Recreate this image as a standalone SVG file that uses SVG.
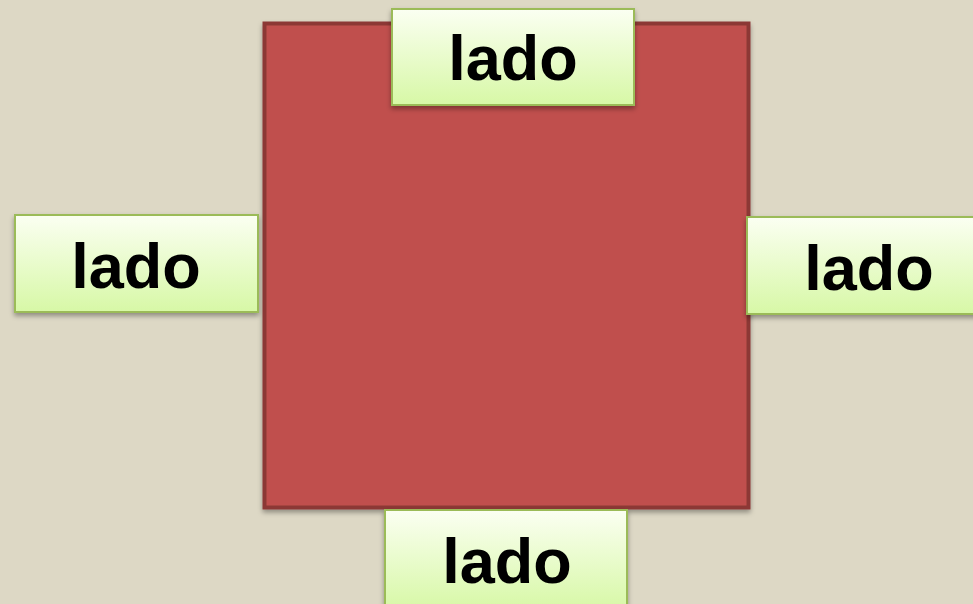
<svg xmlns="http://www.w3.org/2000/svg" width="973" height="604" viewBox="0 0 973 604">
<defs>
<linearGradient id="g" x1="0" y1="0" x2="0" y2="1">
<stop offset="0" stop-color="#fbfff2"/>
<stop offset="1" stop-color="#d7f8a6"/>
</linearGradient>
<filter id="sh" x="-10%" y="-10%" width="120%" height="130%">
<feDropShadow dx="0" dy="3" stdDeviation="2.5" flood-color="#000" flood-opacity="0.35"/>
</filter>
<style>
.lbl{fill:url(#g);stroke:#9bbb59;stroke-width:2;filter:url(#sh)}
.t{font-family:"Liberation Sans",Arial,sans-serif;font-weight:bold;font-size:63px;fill:#000;text-anchor:middle}
</style>
</defs>
<rect width="973" height="604" fill="#ddd8c5"/>
<g id="square">
<rect x="264.5" y="23.5" width="484" height="484" fill="#c0504d" stroke="#8c3836" stroke-width="4" filter="url(#sh)"/>
</g>
<g id="connectors"></g>
<g id="top">
<rect class="lbl" x="392" y="9" width="242" height="96"/>
<text class="t" x="513" y="80">lado</text>
</g>
<g id="left">
<rect class="lbl" x="15" y="215" width="243" height="97"/>
<text class="t" x="136" y="288">lado</text>
</g>
<g id="right">
<rect class="lbl" x="747" y="217" width="240" height="97"/>
<text class="t" x="869" y="290">lado</text>
</g>
<g id="bottom">
<rect class="lbl" x="385" y="510" width="242" height="100"/>
<text class="t" x="507" y="583">lado</text>
</g>
</svg>
